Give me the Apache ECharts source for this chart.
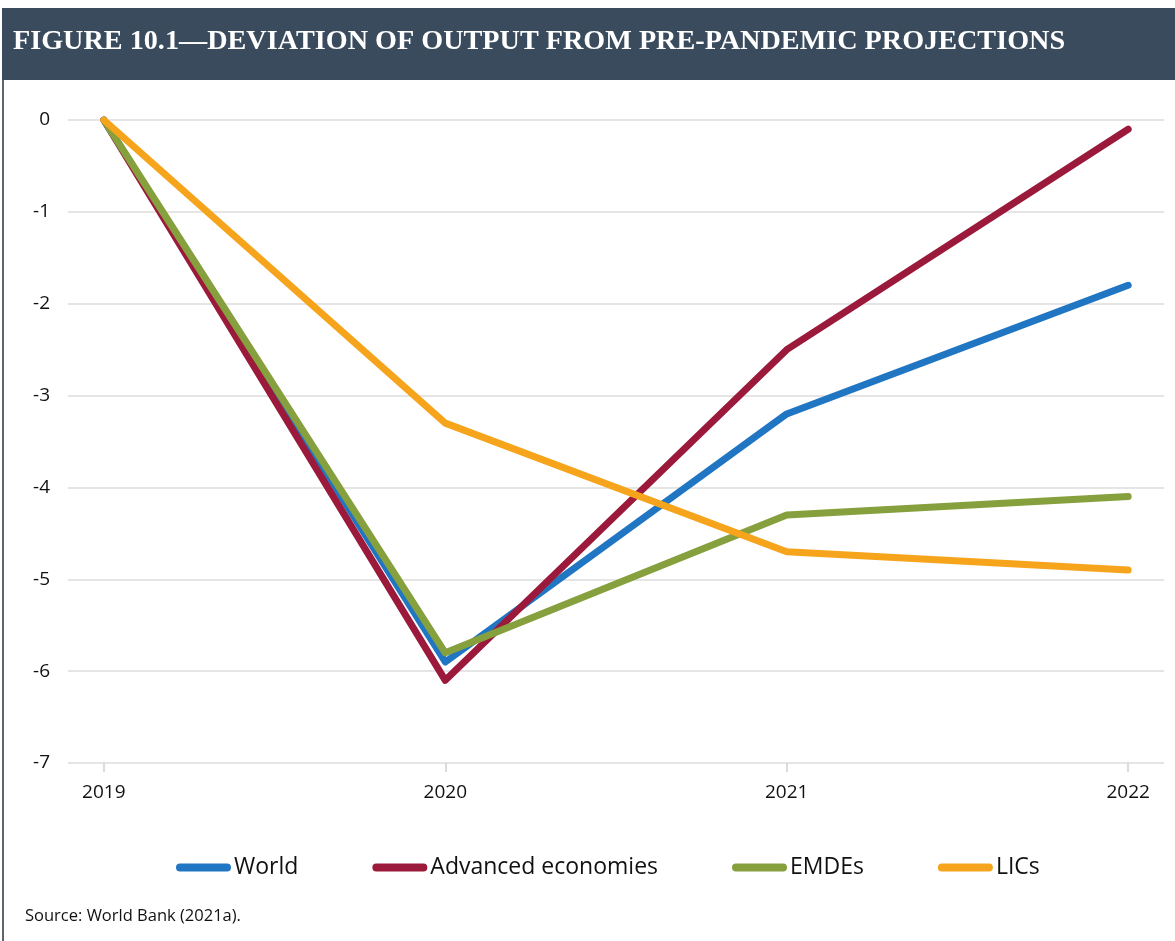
<!DOCTYPE html>
<html>
<head>
<meta charset="utf-8">
<style>
html,body{margin:0;padding:0;background:#fff;}
#chart{width:1175px;height:941px;}
</style>
<script src="https://cdn.jsdelivr.net/npm/echarts@6/dist/echarts.min.js"></script>
</head>
<body>
<div id="chart"></div>
<script>
const years = ['2019', '2020', '2021', '2022'];
const world = [0, -5.9, -3.2, -1.8];
const advanced = [0, -6.1, -2.5, -0.1];
const emdes = [0, -5.8, -4.3, -4.1];
const lics = [0, -3.3, -4.7, -4.9];
const yTicks = [0, -1, -2, -3, -4, -5, -6, -7];

const seriesDefs = [
  {name: 'World', data: world, color: '#2176c3'},
  {name: 'Advanced economies', data: advanced, color: '#9b1a3b'},
  {name: 'EMDEs', data: emdes, color: '#86a03d'},
  {name: 'LICs', data: lics, color: '#f5a41c'}
];

const chart = echarts.init(document.getElementById('chart'));
const capsule = 'path://M4,0 L52,0 A4,4 0 0 1 52,8 L4,8 A4,4 0 0 1 4,0 Z';
chart.setOption({
  backgroundColor: '#fff',
  animation: false,
  title: {
    text: 'FIGURE 10.1\u2014DEVIATION OF OUTPUT FROM PRE-PANDEMIC PROJECTIONS',
    left: 13, top: 28,
    padding: 0,
    textStyle: {fontFamily: 'Liberation Serif', fontWeight: 'bold', fontSize: 28.2, color: '#ffffff'}
  },
  graphic: [
    {type: 'rect', z: -1, shape: {x: 2, y: 8, width: 1173, height: 72}, style: {fill: '#3a4b5d'}},
    {type: 'rect', shape: {x: 2, y: 80, width: 2, height: 861}, style: {fill: '#5a6570'}},
    {type: 'text', left: 25, top: 908, style: {text: 'Source: World Bank (2021a).', fontFamily: 'Open Sans', fontSize: 16.5, fill: '#111'}}
  ],
  legend: {
    top: 856, left: 176, padding: 0,
    itemWidth: 55, itemHeight: 8, itemGap: 74,
    icon: capsule,
    textStyle: {fontFamily: 'Open Sans', fontSize: 23, color: '#111', padding: [0, 0, 0, -2]},
    data: seriesDefs.map(s => s.name)
  },
  grid: {left: 68, right: 11, top: 120, bottom: 178, containLabel: false},
  xAxis: {
    type: 'value', min: -0.105, max: 3.105,
    axisLine: {show: false, onZero: false},
    splitLine: {show: false},
    axisTick: {show: true, customValues: [0, 1, 2, 3], length: 9, lineStyle: {color: '#cfcfcf', width: 1.5}},
    axisLabel: {customValues: [0, 1, 2, 3], margin: 20, fontFamily: 'Open Sans', fontSize: 19, color: '#111',
      formatter: v => years[Math.round(v)]}
  },
  yAxis: {
    type: 'value', min: -7, max: 0, interval: 1,
    axisLine: {show: false}, axisTick: {show: false},
    splitLine: {lineStyle: {color: '#dcdcdc', width: 1.5}},
    axisLabel: {margin: 18, fontFamily: 'Open Sans', fontSize: 19, color: '#111',
      formatter: v => yTicks.includes(v) ? String(v) : ''}
  },
  series: seriesDefs.map(s => ({
    name: s.name, type: 'line', showSymbol: false, symbol: 'none',
    data: s.data.map((v, i) => [i, v]),
    lineStyle: {color: s.color, width: 7, cap: 'round', join: 'round'},
    itemStyle: {color: s.color}
  }))
});
</script>
</body>
</html>
